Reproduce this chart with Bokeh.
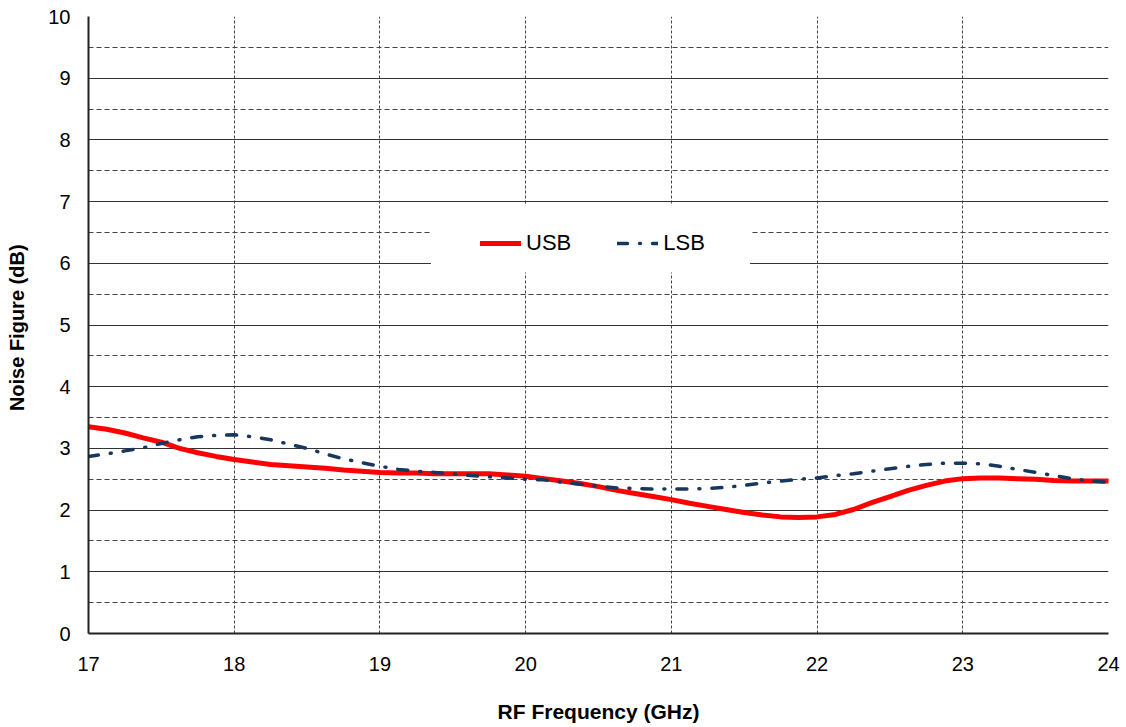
from bokeh.plotting import figure
from bokeh.models import Range1d, FixedTicker, Grid, Legend, LegendItem, BoxAnnotation
from bokeh.embed import file_html
from bokeh.resources import INLINE

# RF frequency sample points (GHz)
freq_ghz = [17.0, 17.125, 17.25, 17.375, 17.5, 17.625, 17.75, 17.875,
            18.0, 18.125, 18.25, 18.375, 18.5, 18.625, 18.75, 18.875,
            19.0, 19.125, 19.25, 19.375, 19.5, 19.625, 19.75, 19.875,
            20.0, 20.125, 20.25, 20.375, 20.5, 20.625, 20.75, 20.875,
            21.0, 21.125, 21.25, 21.375, 21.5, 21.625, 21.75, 21.875,
            22.0, 22.125, 22.25, 22.375, 22.5, 22.625, 22.75, 22.875,
            23.0, 23.125, 23.25, 23.375, 23.5, 23.625, 23.75, 23.875,
            24.0]

# Noise figure, upper sideband (dB)
usb_nf = [3.35, 3.31, 3.25, 3.17, 3.10, 3.00, 2.93, 2.87,
          2.82, 2.78, 2.74, 2.72, 2.70, 2.68, 2.65, 2.63,
          2.61, 2.60, 2.60, 2.59, 2.59, 2.59, 2.59, 2.57,
          2.55, 2.51, 2.47, 2.43, 2.38, 2.32, 2.27, 2.22,
          2.17, 2.11, 2.06, 2.01, 1.96, 1.92, 1.89, 1.88,
          1.89, 1.93, 2.01, 2.12, 2.22, 2.32, 2.40, 2.47,
          2.51, 2.52, 2.52, 2.51, 2.50, 2.48, 2.47, 2.47,
          2.47]

# Noise figure, lower sideband (dB)
lsb_nf = [2.87, 2.91, 2.96, 3.01, 3.08, 3.14, 3.19, 3.21,
          3.22, 3.19, 3.14, 3.07, 3.00, 2.91, 2.83, 2.77,
          2.71, 2.66, 2.63, 2.61, 2.59, 2.56, 2.54, 2.52,
          2.50, 2.49, 2.45, 2.42, 2.39, 2.36, 2.35, 2.34,
          2.34, 2.34, 2.35, 2.37, 2.40, 2.44, 2.47, 2.50,
          2.52, 2.56, 2.59, 2.63, 2.67, 2.71, 2.74, 2.76,
          2.76, 2.75, 2.71, 2.66, 2.61, 2.56, 2.51, 2.47,
          2.45]

x_ticks = [17, 18, 19, 20, 21, 22, 23, 24]
y_ticks = [0, 1, 2, 3, 4, 5, 6, 7, 8, 9, 10]
y_half_ticks = [0.5, 1.5, 2.5, 3.5, 4.5, 5.5, 6.5, 7.5, 8.5, 9.5]

FONT = "Liberation Sans"

p = figure(width=1126, height=727, output_backend="svg", toolbar_location=None,
           x_range=Range1d(17, 24), y_range=Range1d(0, 10),
           min_border_left=88, min_border_right=18,
           min_border_top=16, min_border_bottom=94)
p.outline_line_color = None
p.background_fill_color = "white"
p.border_fill_color = "white"

# axes
for ax in (p.xaxis[0], p.yaxis[0]):
    ax.major_label_text_font = FONT
    ax.major_label_text_font_size = "20px"
    ax.major_label_text_color = "black"
    ax.axis_line_color = "#222222"
    ax.axis_line_width = 2
    ax.major_tick_in = 0
    ax.major_tick_out = 0
    ax.minor_tick_in = 0
    ax.minor_tick_out = 0
    ax.axis_label_text_font = FONT
    ax.axis_label_text_font_style = "bold"
    ax.axis_label_text_color = "black"

p.xaxis.ticker = FixedTicker(ticks=x_ticks)
p.yaxis.ticker = FixedTicker(ticks=y_ticks)
p.xaxis.axis_label = "RF Frequency (GHz)"
p.yaxis.axis_label = "Noise Figure  (dB)"
p.xaxis.axis_label_text_font_size = "21px"
p.yaxis.axis_label_text_font_size = "20px"
p.xaxis.major_label_standoff = 23
p.yaxis.major_label_standoff = 18
p.xaxis.axis_label_standoff = 26
p.yaxis.axis_label_standoff = 17

# grid: dashed verticals, solid integer and dashed half-unit horizontals
p.xgrid.ticker = FixedTicker(ticks=x_ticks)
p.xgrid.grid_line_color = "#444444"
p.xgrid.grid_line_dash = "3 2"
p.xgrid.grid_line_width = 1
p.ygrid.ticker = FixedTicker(ticks=y_ticks)
p.ygrid.grid_line_color = "#333333"
p.ygrid.grid_line_width = 1
half_grid = Grid(dimension=1, ticker=FixedTicker(ticks=y_half_ticks),
                 grid_line_color="#444444", grid_line_dash="5 3", grid_line_width=1)
p.add_layout(half_grid)

usb = p.line(freq_ghz, usb_nf, line_color="#FF0000", line_width=5,
             line_join="round", line_cap="round")
lsb = p.line(freq_ghz, lsb_nf, line_color="#17375E", line_width=3.5,
             line_dash="10 12 1 12", line_cap="round", line_join="round")

# white panel behind the legend, hiding the grid there
legend_panel = BoxAnnotation(left=19.35, right=21.54, bottom=5.85, top=6.94,
                             fill_color="white", fill_alpha=1.0, line_color=None)
p.add_layout(legend_panel)

legend = Legend(items=[LegendItem(label="USB", renderers=[usb]),
                       LegendItem(label="LSB", renderers=[lsb])],
                orientation="horizontal", location=(392, 377),
                padding=0, spacing=46, glyph_width=41, glyph_height=20,
                label_standoff=5, label_text_font=FONT,
                label_text_font_size="22px", label_text_color="black",
                border_line_color=None, background_fill_color="white",
                background_fill_alpha=1.0)
p.add_layout(legend)

open("out.html", "w").write(file_html(p, INLINE))
